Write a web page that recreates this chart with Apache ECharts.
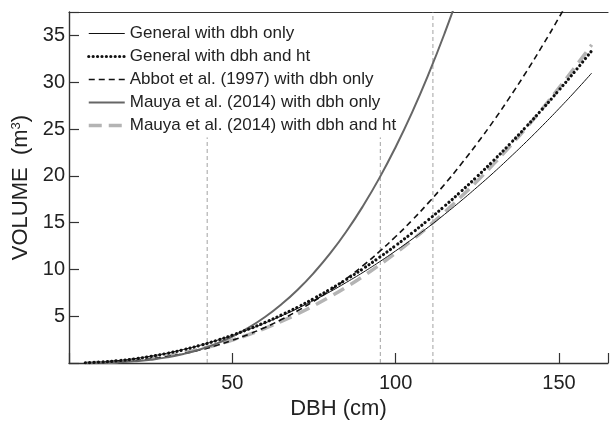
<!DOCTYPE html>
<html>
<head>
<meta charset="utf-8">
<script src="https://cdn.jsdelivr.net/npm/echarts@6/dist/echarts.min.js"></script>
<style>html,body{margin:0;padding:0;background:#fff}#c{width:611px;height:425px}</style>
</head>
<body>
<div id="c"></div>
<script>
var dbh = [5,10,15,20,25,30,35,40,45,50,55,60,65,70,75,80,85,90,95,100,105,110,115,120,125,130,135,140,145,150,155,160];
var generalDbh = [0.028,0.114,0.26,0.46,0.73,1.05,1.44,1.88,2.39,2.95,3.58,4.27,5.02,5.83,6.70,7.63,8.63,9.68,10.80,11.98,13.22,14.52,15.89,17.32,18.81,20.35,21.97,23.64,25.38,27.18,29.04,30.97];
var generalDbhHt = [0.025,0.104,0.24,0.44,0.70,1.03,1.41,1.87,2.38,2.97,3.62,4.33,5.12,5.97,6.90,7.89,8.95,10.07,11.28,12.55,13.89,15.29,16.77,18.33,19.95,21.65,23.42,25.26,27.17,29.15,31.21,33.35];
var abbotDbh = [0.008,0.045,0.12,0.25,0.43,0.68,1.00,1.39,1.86,2.42,3.07,3.80,4.64,5.58,6.62,7.77,9.03,10.40,11.89,13.51,15.24,17.11,19.10,21.23,23.49,25.88,28.43,31.11,33.94,36.91,40.04,43.33];
var mauyaDbh = [0.003,0.022,0.074,0.18,0.35,0.60,0.96,1.44,2.05,2.83,3.77,4.91,6.26,7.83,9.65,11.73,14.10,16.77,19.75,23.08,26.75,30.80,35.24,40.09];
var mauyaDbhHt = [0.013,0.065,0.16,0.31,0.51,0.77,1.10,1.48,1.93,2.45,3.04,3.71,4.44,5.25,6.14,7.10,8.14,9.26,10.47,11.75,13.12,14.58,16.12,17.75,19.46,21.27,23.16,25.14,27.21,29.39,31.65,34.00];
var seriesNames = ['General with dbh only','General with dbh and ht','Abbot et al. (1997) with dbh only','Mauya et al. (2014) with dbh only','Mauya et al. (2014) with dbh and ht'];
var refDbh = [42.3, 95.3, 111.4];
var refTop = [24.1, 24.1, 37.5];
var xTicks = [50, 100, 150];
var yTicks = [5, 10, 15, 20, 25, 30, 35];

function pairs(xs, ys){ var o=[]; for(var i=0;i<ys.length;i++){ o.push([xs[i], ys[i]]); } return o; }

var FONT = 'Liberation Sans, Arial, Helvetica, sans-serif';
var TXT = '#222';

var series = [];
refDbh.forEach(function(x, i){
  series.push({
    type:'line', name:'ref'+i, data:[[x,0],[x,refTop[i]]], symbol:'none', silent:true,
    lineStyle:{color:'#8a8a8a', width:0.8, type:[4,3]}, z:1
  });
});
series.push({name:seriesNames[4], type:'line', data:pairs(dbh,mauyaDbhHt), symbol:'none', smooth:true,
  lineStyle:{color:'#b4b4b4', width:3.5, type:[13,7]}, itemStyle:{color:'#b4b4b4'}, z:2});
series.push({name:seriesNames[0], type:'line', data:pairs(dbh,generalDbh), symbol:'none', smooth:true,
  lineStyle:{color:'#111', width:1}, itemStyle:{color:'#111'}, z:3});
series.push({name:seriesNames[2], type:'line', data:pairs(dbh,abbotDbh), symbol:'none', smooth:true,
  lineStyle:{color:'#111', width:1.6, type:[6,4]}, itemStyle:{color:'#111'}, z:3});
series.push({name:seriesNames[1], type:'line', data:pairs(dbh,generalDbhHt), symbol:'none', smooth:true,
  lineStyle:{color:'#111', width:3.2, type:[0.01,4.4], cap:'round'}, itemStyle:{color:'#111'}, z:4});
series.push({name:seriesNames[3], type:'line', data:pairs(dbh,mauyaDbh), symbol:'none', smooth:true,
  lineStyle:{color:'#666', width:2}, itemStyle:{color:'#666'}, z:3});

var chart = echarts.init(document.getElementById('c'), null, {renderer:'canvas'});
chart.setOption({
  animation:false,
  backgroundColor:'#fff',
  textStyle:{fontFamily:FONT},
  grid:{left:69, right:0, top:12, bottom:58, containLabel:false},
  legend:{
    data:seriesNames, orient:'vertical', left:82, top:20,
    itemWidth:36, itemHeight:14, itemGap:6, selectedMode:false,
    itemStyle:{opacity:0},
    lineStyle:{width:'inherit'},
    textStyle:{fontFamily:FONT, fontSize:17, color:TXT, lineHeight:17}
  },
  xAxis:[{
    type:'value', min:0, max:165, interval:50,
    name:'DBH (cm)', nameLocation:'middle', nameGap:35,
    nameTextStyle:{fontFamily:FONT, fontSize:22, color:TXT},
    axisLine:{show:true, lineStyle:{color:'#333', width:1.4}},
    axisTick:{show:true, inside:true, length:10, lineStyle:{color:'#333', width:1.2}},
    axisLabel:{fontFamily:FONT, fontSize:20, color:TXT, margin:10,
      formatter:function(v){ return xTicks.indexOf(v) >= 0 ? String(v) : ''; }},
    splitLine:{show:false}
  },{
    type:'value', position:'top', min:0, max:165,
    axisLine:{show:true, lineStyle:{color:'#333', width:1.2}},
    axisTick:{show:false}, axisLabel:{show:false}, splitLine:{show:false}
  }],
  yAxis:{
    type:'value', min:0, max:37.5, interval:5,
    name:'VOLUME  (m{sup|3})', nameLocation:'middle', nameGap:27, nameRotate:90,
    nameTextStyle:{fontFamily:FONT, fontSize:22, color:TXT,
      rich:{sup:{fontFamily:FONT, fontSize:13, color:TXT, verticalAlign:'top', padding:[0,0,9,0]}}},
    axisLine:{show:true, lineStyle:{color:'#333', width:1.4}},
    axisTick:{show:true, inside:true, length:10, lineStyle:{color:'#333', width:1.2}},
    axisLabel:{fontFamily:FONT, fontSize:20, color:TXT, margin:4,
      formatter:function(v){ return yTicks.indexOf(v) >= 0 ? String(v) : ''; }},
    splitLine:{show:false}
  },
  series:series
});
</script>
</body>
</html>
